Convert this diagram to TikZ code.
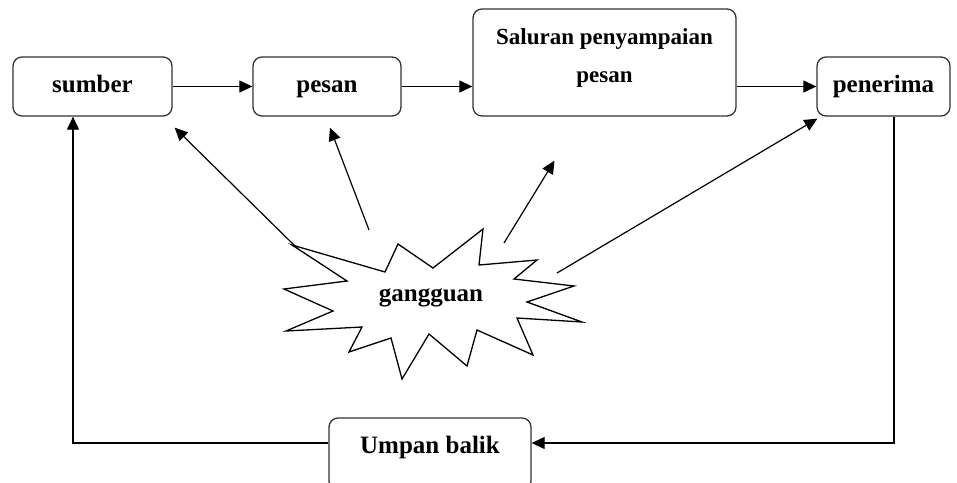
\documentclass[tikz,border=0pt]{standalone}
\usepackage{fontspec}
\setmainfont{Liberation Serif}
\usetikzlibrary{arrows.meta}
\begin{document}
\begin{tikzpicture}[x=1pt, y=-1pt,
  box/.style={draw=black!80, line width=1.3pt, rounded corners=9pt, fill=white, font=\fontsize{25}{30}\selectfont\bfseries},
  oneline/.style={text height=17pt, text depth=5pt, minimum height=59pt},
  arr/.style={-{Triangle[length=13pt,width=12pt]}, line width=1.2pt}]
\useasboundingbox (0,0) rectangle (957,482);
\node[box, oneline, minimum width=159pt] (sumber) at (92.5,86.5){sumber};
\node[box, oneline, minimum width=148pt] (pesan) at (327,86.5){pesan};
\node[box, minimum width=263pt, minimum height=107pt, align=center, text depth=13pt, font=\fontsize{23}{38}\selectfont\bfseries] (saluran) at (604.5,62.5){Saluran penyampaian\\pesan};
\node[box, oneline, minimum width=133pt] (penerima) at (883.5,86.5){penerima};
\node[box, anchor=base, minimum width=202pt, text height=35pt, text depth=37pt, inner ysep=0pt] (umpan) at (430,453){Umpan balik};

\draw[arr](sumber) -- (pesan);
\draw[arr](pesan.east) -- (pesan.east -| saluran.west);
\draw[arr](saluran.east |- penerima.west) -- (penerima.west);

% umpan balik
\coordinate (fbr) at (894,0);
\coordinate (fbl) at (73,0);
\draw[arr](penerima.south -| fbr) |- ([yshift=11pt]umpan.east);
\draw[arr]([yshift=11pt]umpan.west) -| (sumber.south -| fbl);

% gangguan
\coordinate (g1) at (297,248);
\coordinate (g2) at (369,230);
\coordinate (g3) at (504,243);
\coordinate (g4) at (557,273);
\draw[arr](g1) -- ([xshift=2pt,yshift=-11pt]sumber.south east);
\draw[arr](g2) -- ([xshift=3pt,yshift=-11pt]pesan.south);
\draw[arr](g3) -- ([xshift=-50pt,yshift=-44pt]saluran.south);
\draw[arr](g4) -- ([xshift=1pt,yshift=-2pt]penerima.south west);
\draw[line width=1.3pt, line join=miter, fill=white] (292,245) -- (385,272) -- (398,244) -- (433,268) -- (483,229) -- (479,265) -- (537,260) -- (514,279) -- (574,286) -- (527,302) -- (582,322) -- (517,318) -- (533,355) -- (477,330) -- (467,366) -- (429,334) -- (402,379) -- (391,338) -- (349,352) -- (362,327) -- (286,331) -- (333,311) -- (284,289) -- (347,281) -- cycle;
\node[font=\fontsize{25}{30}\selectfont\bfseries, text height=17pt, text depth=5pt] (gangguan) at (431,295){gangguan};

\end{tikzpicture}
\end{document}
